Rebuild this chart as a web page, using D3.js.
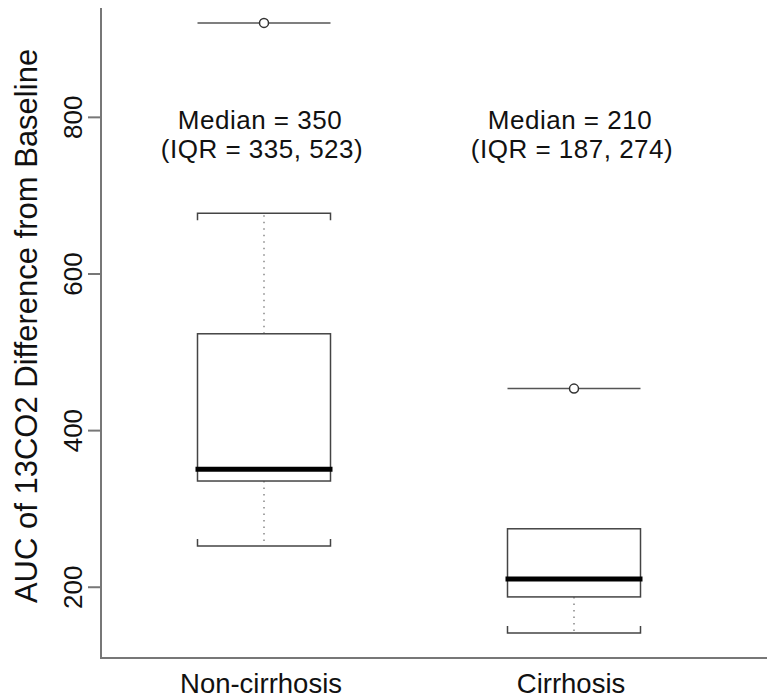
<!DOCTYPE html>
<html>
<head>
<meta charset="utf-8">
<script src="https://cdn.jsdelivr.net/npm/d3@7"></script>
<style>
  body { margin: 0; background: #fff; }
  svg { display: block; font-family: "Liberation Sans", Arial, sans-serif; }
</style>
</head>
<body>
<svg id="paper"></svg>
<script>
// data
const categories = ["Non-cirrhosis", "Cirrhosis"];
const lowerWhisker = [252, 141];
const q1 = [335, 187];
const median = [350, 210];
const q3 = [523, 274];
const upperWhisker = [677, 274];
const outliers = [[920], [453]];
const yTicks = [200, 400, 600, 800];
const yLabel = "AUC of 13CO2 Difference from Baseline";

const width = 767, height = 698;
const frame = { left: 101, top: 8, bottom: 658, right: 767 };
const boxWidth = 133;

const svg = d3.select("#paper")
  .attr("width", width)
  .attr("height", height);

const y = d3.scaleLinear()
  .domain([109, 939])
  .range([frame.bottom, frame.top]);

const x = d3.scalePoint()
  .domain(categories)
  .range([264, 574]);

const boxes = categories.map((cat, i) => ({
  cat: cat,
  lo: lowerWhisker[i],
  q1: q1[i],
  med: median[i],
  q3: q3[i],
  hi: upperWhisker[i],
  out: outliers[i],
}));

// y axis
const axis = svg.append("g")
  .attr("class", "axis-left")
  .attr("transform", `translate(${frame.left},0)`)
  .call(d3.axisLeft(y).tickValues(yTicks).tickSize(13).tickFormat(d3.format("d")));
axis.select(".domain").remove();
axis.selectAll(".tick line").attr("stroke", "#777").attr("stroke-width", 2);
axis.selectAll(".tick text")
  .attr("transform", "rotate(-90)")
  .attr("x", 0)
  .attr("y", -19)
  .attr("dy", 0)
  .attr("text-anchor", "middle")
  .attr("fill", "#111")
  .style("font-size", "26px");

// L shaped frame
svg.append("path")
  .attr("d", `M${frame.left},${frame.top}V${frame.bottom}H${frame.right}`)
  .attr("fill", "none")
  .attr("stroke", "#777")
  .attr("stroke-width", 2);

svg.append("text")
  .attr("transform", `translate(37,326) rotate(-90)`)
  .attr("text-anchor", "middle")
  .attr("fill", "#111")
  .style("font-size", "31px")
  .text(yLabel);

const groups = svg.append("g")
  .attr("class", "boxes")
  .selectAll("g")
  .data(boxes)
  .enter()
  .append("g")
  .attr("transform", (d) => `translate(${x(d.cat)},0)`);

const hw = boxWidth / 2;

// whiskers (dotted)
groups.append("line")
  .attr("x1", 0).attr("x2", 0)
  .attr("y1", (d) => y(d.q3)).attr("y2", (d) => y(d.hi))
  .attr("stroke", "#888").attr("stroke-width", 1.5)
  .attr("stroke-dasharray", "1.5,5");
groups.append("line")
  .attr("x1", 0).attr("x2", 0)
  .attr("y1", (d) => y(d.q1)).attr("y2", (d) => y(d.lo))
  .attr("stroke", "#888").attr("stroke-width", 1.5)
  .attr("stroke-dasharray", "1.5,5");

// staples, bracket shaped
groups.append("path")
  .attr("d", (d) => `M${-hw},${y(d.hi) + 7}V${y(d.hi)}H${hw}V${y(d.hi) + 7}`)
  .attr("fill", "none").attr("stroke", "#444").attr("stroke-width", 1.5)
  .style("display", (d) => d.hi === d.q3 ? "none" : null);
groups.append("path")
  .attr("d", (d) => `M${-hw},${y(d.lo) - 7}V${y(d.lo)}H${hw}V${y(d.lo) - 7}`)
  .attr("fill", "none").attr("stroke", "#444").attr("stroke-width", 1.5);

// box
groups.append("rect")
  .attr("x", -hw)
  .attr("y", (d) => y(d.q3))
  .attr("width", boxWidth)
  .attr("height", (d) => y(d.q1) - y(d.q3))
  .attr("fill", "#fff")
  .attr("stroke", "#444")
  .attr("stroke-width", 1.5);

// median
groups.append("line")
  .attr("x1", -hw - 2).attr("x2", hw + 2)
  .attr("y1", (d) => y(d.med)).attr("y2", (d) => y(d.med))
  .attr("stroke", "#000").attr("stroke-width", 5);

// outliers: line + circle
const outs = groups.selectAll(".outlier")
  .data((d) => d.out)
  .enter()
  .append("g")
  .attr("class", "outlier");
outs.append("line")
  .attr("x1", -hw).attr("x2", hw)
  .attr("y1", (v) => y(v)).attr("y2", (v) => y(v))
  .attr("stroke", "#555").attr("stroke-width", 1.5);
outs.append("circle")
  .attr("cx", 0).attr("cy", (v) => y(v)).attr("r", 4.5)
  .attr("fill", "#fff").attr("stroke", "#333").attr("stroke-width", 1.5);

// annotations, two lines
const note = groups.append("text")
  .attr("text-anchor", "middle")
  .attr("fill", "#111")
  .style("font-size", "26px")
  .style("letter-spacing", "0.5px");
note.append("tspan")
  .attr("x", -4).attr("y", 128.5)
  .text((d) => `Median = ${d.med}`);
note.append("tspan")
  .attr("x", -2).attr("y", 158)
  .text((d) => `(IQR = ${d.q1}, ${d.q3})`);

// category labels
groups.append("text")
  .attr("x", -3).attr("y", 693)
  .attr("text-anchor", "middle")
  .attr("fill", "#111")
  .style("font-size", "27.5px")
  .text((d) => d.cat);
</script>
</body>
</html>
